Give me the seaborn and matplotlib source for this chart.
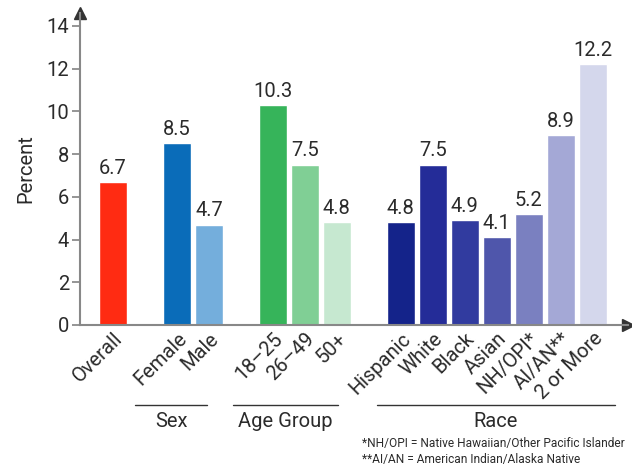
import matplotlib
matplotlib.use("Agg")
import matplotlib.pyplot as plt
import seaborn as sns
import pandas as pd

# data
labels = ["Overall", "Female", "Male", "18–25", "26–49", "50+",
          "Hispanic", "White", "Black", "Asian", "NH/OPI*", "AI/AN**", "2 or More"]
values = [6.7, 8.5, 4.7, 10.3, 7.5, 4.8, 4.8, 7.5, 4.9, 4.1, 5.2, 8.9, 12.2]
positions = [0, 2, 3, 5, 6, 7, 9, 10, 11, 12, 13, 14, 15]
colors = ["#ff2b12",
          "#0a6cb9", "#74aedc",
          "#36b45a", "#80cf95", "#c6e8d0",
          "#14238a", "#242c98", "#313b9f", "#4f56ab", "#7a80c0", "#a4a8d6", "#d4d7ec"]
groups = ["Sex", "Age Group", "Race"]
group_spans = [(0.69, 2.94), (3.75, 7.03), (8.25, 15.69)]
footnotes = ["*NH/OPI = Native Hawaiian/Other Pacific Islander",
             "**AI/AN = American Indian/Alaska Native"]

sns.set_theme(style="white")
plt.rcParams["font.family"] = ["Roboto", "DejaVu Sans"]
txt = "#2b2b2b"

df = pd.DataFrame({"pos": positions, "val": values, "lab": labels})

fig = plt.figure(figsize=(6.32, 4.66), dpi=100)
ax = fig.add_axes([0.1266, 0.3026, 0.867, 0.6695])

sns.barplot(data=df, x="pos", y="val", hue="lab", palette=colors, hue_order=labels,
            dodge=False, native_scale=True, width=0.87, legend=False, ax=ax,
            saturation=1)

ax.set_xlim(-1.03, 16.1)
ax.set_ylim(0, 14.6)
ax.set_yticks(range(0, 15, 2))
ax.tick_params(axis="y", length=6, color="#888888", labelsize=14.5, labelcolor=txt, pad=2, left=True)
ax.set_xticks(positions)
ax.set_xticklabels(labels, rotation=45, ha="right", rotation_mode="anchor",
                   fontsize=14.5, color=txt)
ax.tick_params(axis="x", length=0, pad=3)
ax.set_xlabel("")
ax.set_ylabel("Percent", fontsize=14.5, color=txt, labelpad=8)

for s in ["top", "right"]:
    ax.spines[s].set_visible(False)
for s in ["left", "bottom"]:
    ax.spines[s].set_color("#888888")
    ax.spines[s].set_linewidth(1.5)
ax.plot(1, 0, ">", color="#333333", ms=8, transform=ax.transAxes, clip_on=False)
ax.plot(0, 1, "^", color="#333333", ms=8, transform=ax.transAxes, clip_on=False)

for p, v in zip(positions, values):
    ax.text(p, v + 0.2, f"{v}", ha="center", va="bottom", fontsize=14.5, color=txt)

xt = ax.get_xaxis_transform()
for g, (a, b) in zip(groups, group_spans):
    ax.plot([a, b], [-0.256, -0.256], color="#333333", lw=1, transform=xt, clip_on=False)
    ax.text((a + b) / 2, -0.31, g, ha="center", va="center", fontsize=14.5,
            color=txt, transform=xt)

fig.text(0.573, 1 - 443 / 466, footnotes[0], ha="left", va="center", fontsize=8.6, color=txt)
fig.text(0.573, 1 - 459 / 466, footnotes[1], ha="left", va="center", fontsize=8.6, color=txt)

fig.savefig("out.png", dpi=100)
